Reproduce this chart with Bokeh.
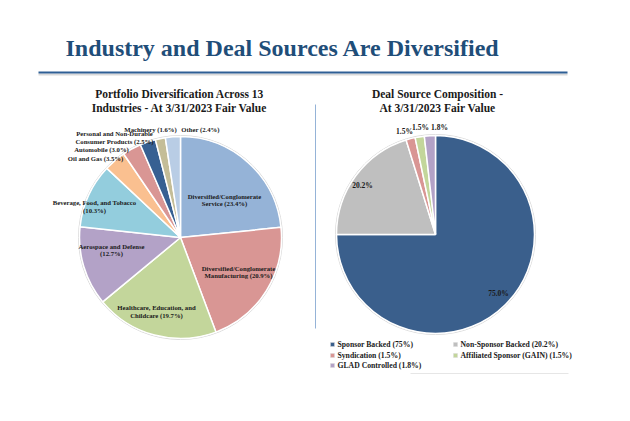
import math
from bokeh.plotting import figure
from bokeh.models import Range1d, ColumnDataSource
from bokeh.core.properties import value
from bokeh.embed import file_html
from bokeh.resources import INLINE

W, H = 630, 421
FONT = "Liberation Serif"

title_text = "Industry and Deal Sources Are Diversified"
left_title = ["Portfolio Diversification Across 13", "Industries - At 3/31/2023 Fair Value"]
right_title = ["Deal Source Composition -", "At 3/31/2023 Fair Value"]

industry_names = [
    "Diversified/Conglomerate\nService",
    "Diversified/Conglomerate\nManufacturing",
    "Healthcare, Education, and\nChildcare",
    "Aerospace and Defense\n",
    "Beverage, Food, and Tobacco\n",
    "Oil and Gas",
    "Automobile",
    "Personal and Non-Durable\nConsumer Products",
    "Machinery",
    "Other",
]
industry_values = [23.4, 20.9, 19.7, 12.7, 10.3, 3.5, 3.0, 2.5, 1.6, 2.4]
industry_colors = ["#95B3D7", "#D99694", "#C3D69B", "#B3A2C7", "#93CDDD",
                   "#FAC090", "#D99694", "#376092", "#C4BD97", "#B9CDE5"]

source_names = ["Sponsor Backed", "Non-Sponsor Backed", "Syndication",
                "Affiliated Sponsor (GAIN)", "GLAD Controlled"]
source_values = [75.0, 20.2, 1.5, 1.5, 1.8]
source_colors = ["#3A5F8C", "#BFBFBF", "#D99694", "#C3D69B", "#B3A2C7"]

# layout (pixel positions, top-left origin)
L_CX, L_CY, L_R = 180, 237, 101
R_CX, R_CY, R_R = 435, 234, 99
ind_label_pos = [(224, 199.5), (238, 271.5), (156, 311), (111, 249.5), (94, 206),
                 (95, 158), (101, 149), (114, 137), (150, 129), (200, 129)]
src_label_pos = [(404, 131), (362, 185), (404, 131), (420, 127), (439, 127)]
src_label_pos[0] = (498, 293)
legend_pos = [(332, 344), (455, 344), (332, 355), (455, 355), (332, 365)]


def Y(py):
    return H - py


p = figure(width=W, height=H, x_range=Range1d(0, W), y_range=Range1d(0, H),
           toolbar_location=None, output_backend="svg", min_border=0,
           outline_line_color=None, background_fill_color="white")
p.axis.visible = False
p.grid.visible = False


def wedges(cx, cy, r, vals, colors):
    total = sum(vals)
    starts, ends = [], []
    cum = 0.0
    for v in vals:
        a0 = math.pi / 2 - 2 * math.pi * (cum + v) / total
        a1 = math.pi / 2 - 2 * math.pi * cum / total
        starts.append(a0)
        ends.append(a1)
        cum += v
    src = ColumnDataSource(dict(x=[cx] * len(vals), y=[Y(cy)] * len(vals),
                                s=starts, e=ends, c=colors))
    p.circle(x=cx, y=Y(cy), radius=r + 1, radius_units="screen",
             fill_color=None, line_color="#D9D9D9", line_width=1)
    p.wedge(x="x", y="y", radius=r, radius_units="screen", start_angle="s",
            end_angle="e", fill_color="c", line_color="white", line_width=1.5,
            source=src)


wedges(L_CX, L_CY, L_R, industry_values, industry_colors)
wedges(R_CX, R_CY, R_R, source_values, source_colors)

# title and rule
p.text(x=[65], y=[Y(47)], text=[title_text], text_font=value(FONT),
       text_font_style="bold", text_font_size="24px", text_color="#1F4E79",
       text_align="left", text_baseline="middle")
p.line(x=[38, 567], y=[Y(74), Y(74)], line_color="#D9D9D9", line_width=2)
p.line(x=[38, 567], y=[Y(72), Y(72)], line_color="#2E5F95", line_width=2)

# subtitles
for i, t in enumerate(left_title):
    p.text(x=[179], y=[Y(93 + 14 * i)], text=[t], text_font=value(FONT),
           text_font_style="bold", text_font_size="11.5px", text_color="#1A1A1A",
           text_align="center", text_baseline="middle")
for i, t in enumerate(right_title):
    p.text(x=[437], y=[Y(93 + 14 * i)], text=[t], text_font=value(FONT),
           text_font_style="bold", text_font_size="11.5px", text_color="#1A1A1A",
           text_align="center", text_baseline="middle")

# divider
p.line(x=[315, 315], y=[Y(104), Y(328)], line_color="#95B3D7", line_width=1)

# industry labels
for name, v, (lx, ly) in zip(industry_names, industry_values, ind_label_pos):
    full = f"{name} ({v}%)" if not name.endswith("\n") else f"{name}({v}%)"
    lines = full.split("\n")
    n = len(lines)
    for j, ln in enumerate(lines):
        yy = ly + (j - (n - 1) / 2) * 7.5
        p.text(x=[lx], y=[Y(yy)], text=[ln], text_font=value(FONT),
               text_font_style="bold", text_font_size="6.7px", text_color="#1A1A1A",
               text_align="center", text_baseline="middle")

# source labels
for v, (lx, ly) in zip(source_values, src_label_pos):
    p.text(x=[lx], y=[Y(ly)], text=[f"{v:.1f}%"], text_font=value(FONT),
           text_font_style="bold", text_font_size="7.5px", text_color="#1A1A1A",
           text_align="center", text_baseline="middle")

# legend
for name, v, c, (lx, ly) in zip(source_names, source_values, source_colors, legend_pos):
    p.scatter(x=[lx], y=[Y(ly)], marker="square", size=4, fill_color=c,
              line_color="#D9D9D9", line_width=0.5)
    p.text(x=[lx + 5], y=[Y(ly)], text=[f"{name} ({v:g}%)"], text_font=value(FONT),
           text_font_style="bold", text_font_size="7.7px", text_color="#1A1A1A",
           text_align="left", text_baseline="middle")
p.line(x=[410, 568], y=[Y(373), Y(373)], line_color="#E6E6E6", line_width=1)

open("out.html", "w").write(file_html(p, INLINE))
